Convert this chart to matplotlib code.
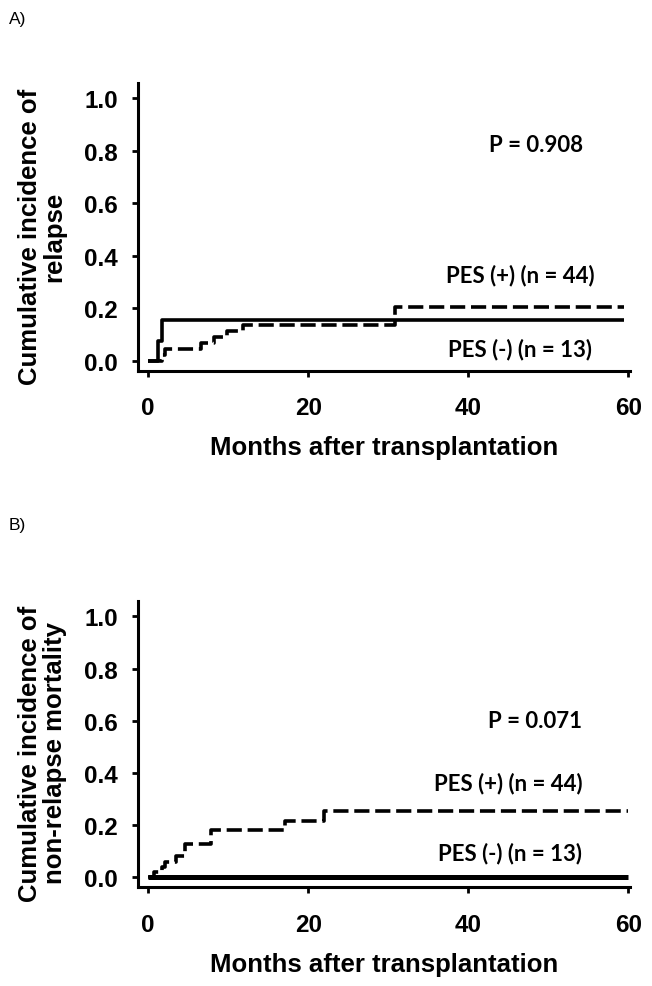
import matplotlib
matplotlib.use('Agg')
import matplotlib.pyplot as plt

# Panel A: cumulative incidence of relapse
a_neg_months = [0, 1.2, 1.7, 59.4]
a_neg_ci = [0, 0.077, 0.154, 0.154]
a_pos_months = [0, 1.8, 2.1, 6.6, 8.3, 9.8, 11.9, 30.8, 59.4]
a_pos_ci = [0, 0.023, 0.045, 0.068, 0.091, 0.114, 0.136, 0.205, 0.205]

# Panel B: cumulative incidence of non-relapse mortality
b_neg_months = [0, 60]
b_neg_ci = [0, 0]
b_pos_months = [0, 0.8, 1.7, 2.1, 3.5, 4.6, 7.9, 17.1, 22.0, 60]
b_pos_ci = [0, 0.02, 0.04, 0.057, 0.082, 0.129, 0.183, 0.215, 0.253, 0.253]

y_ticks = [0.0, 0.2, 0.4, 0.6, 0.8, 1.0]
x_ticks = [0, 20, 40, 60]

AX_FONT = 'Liberation Sans'
NOTE_FONT = 'Lato'

fig = plt.figure(figsize=(6.52, 9.87), dpi=100)

panels = [
    dict(rect=[0.2117, 0.6234, 0.7546, 0.2915], ylim=(-0.037, 1.057),
         ylabel='Cumulative incidence of\nrelapse',
         neg=(a_neg_months, a_neg_ci, 2.6), pos=(a_pos_months, a_pos_ci),
         p_text='P = 0.908', p_pos=(48.5, 0.825),
         pos_lbl=(46.5, 0.327), neg_lbl=(46.5, 0.046),
         tag='A)', tag_y=0.980),
    dict(rect=[0.2117, 0.1003, 0.7546, 0.2901], ylim=(-0.037, 1.06),
         ylabel='Cumulative incidence of\nnon-relapse mortality',
         neg=(b_neg_months, b_neg_ci, 3.6), pos=(b_pos_months, b_pos_ci),
         p_text='P = 0.071', p_pos=(48.3, 0.6),
         pos_lbl=(45.0, 0.365), neg_lbl=(45.2, 0.096),
         tag='B)', tag_y=0.468),
]

for p in panels:
    ax = fig.add_axes(p['rect'])
    m, ci, lw = p['neg']
    ax.plot(m, ci, drawstyle='steps-post', color='black', lw=lw,
            solid_capstyle='butt')
    m, ci = p['pos']
    ax.plot(m, ci, drawstyle='steps-post', color='black', lw=2.6,
            linestyle=(0, (4.2, 1.6)), dash_capstyle='butt')

    ax.set_xlim(-1.25, 60.2)
    ax.set_ylim(*p['ylim'])
    ax.set_xticks(x_ticks)
    ax.set_yticks(y_ticks)
    ax.set_yticklabels([f'{v:.1f}' for v in y_ticks])
    for side in ['top', 'right']:
        ax.spines[side].set_visible(False)
    for side in ['left', 'bottom']:
        ax.spines[side].set_linewidth(2.2)
    ax.tick_params(axis='both', direction='out', length=4.5, width=2.0,
                   labelsize=17.5)
    ax.tick_params(axis='x', pad=14)
    ax.tick_params(axis='y', pad=10)
    for lbl in ax.get_xticklabels() + ax.get_yticklabels():
        lbl.set_fontfamily(AX_FONT)
        lbl.set_fontweight('bold')

    ax.set_xlabel('Months after transplantation', fontsize=18.5,
                  fontweight='bold', family=AX_FONT, labelpad=11.5)
    ax.set_ylabel(p['ylabel'], fontsize=18.5, fontweight='bold',
                  family=AX_FONT, va='center', linespacing=1.05)
    ax.yaxis.set_label_coords(-0.195, 0.47)

    ax.text(*p['p_pos'], p['p_text'], fontsize=16, fontweight='bold',
            family=NOTE_FONT, ha='center', va='center')
    ax.text(*p['pos_lbl'], 'PES (+) (n = 44)', fontsize=16,
            fontweight='bold', family=NOTE_FONT, ha='center', va='center')
    ax.text(*p['neg_lbl'], 'PES (-) (n = 13)', fontsize=16,
            fontweight='bold', family=NOTE_FONT, ha='center', va='center')

    fig.text(0.013, p['tag_y'], p['tag'], fontsize=12.5, family=AX_FONT,
             ha='left', va='center')

fig.savefig('out.png', dpi=100)
